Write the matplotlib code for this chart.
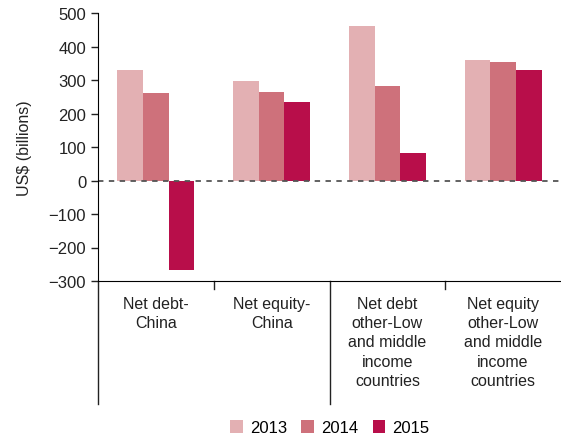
import matplotlib.pyplot as plt
import numpy as np

plt.rcParams['font.family'] = ['Liberation Sans', 'DejaVu Sans']

# Datos (miles de millones US$)
categories = ['Net debt-\nChina', 'Net equity-\nChina',
              'Net debt\nother-Low\nand middle\nincome\ncountries',
              'Net equity\nother-Low\nand middle\nincome\ncountries']
years = ['2013', '2014', '2015']
v2013 = [329, 298, 460, 360]
v2014 = [262, 263, 283, 355]
v2015 = [-266, 235, 81, 331]
colors = ['#E3B0B3', '#CE717B', '#B80E4A']

fig = plt.figure(figsize=(5.61, 4.39), dpi=100)
ax = fig.add_axes([98 / 561, 1 - 282 / 439, 463 / 561, 268 / 439])

x = np.arange(len(categories))
w = 0.222
for i, (vals, yr) in enumerate(zip([v2013, v2014, v2015], years)):
    ax.bar(x + (i - 1) * w, vals, width=w, color=colors[i], label=yr)

ax.axhline(0, color='#555555', lw=1.3, ls=(0, (3, 3)))
ax.set_xlim(-0.5, 3.5)
ax.set_ylim(-300, 500)
ax.set_yticks(range(-300, 501, 100))
ax.set_xticks([])
ax.spines['top'].set_visible(False)
ax.spines['right'].set_visible(False)
ax.tick_params(axis='y', labelsize=12, length=5, width=1, colors='#222222')
ax.set_ylabel('US$ (billions)', fontsize=11.5, labelpad=12, color='#222222')

# Separadores de categorias bajo el eje
trans = ax.get_xaxis_transform()
for b in [-0.5, 0.5, 1.5, 2.5]:
    depth = -0.459 if b in (-0.5, 1.5) else -0.03
    ax.plot([b, b], [0, depth], transform=trans, color='#222222', lw=1, clip_on=False)

for xi, lab in zip(x, categories):
    ax.text(xi, -0.055, lab, transform=trans, ha='center', va='top',
            fontsize=11.5, linespacing=1.36, color='#222222')

fig.legend(loc='lower center', ncol=3, bbox_to_anchor=(0.588, -0.028), frameon=False,
           fontsize=12, handlelength=0.75, handleheight=0.75, columnspacing=0.85,
           handletextpad=0.45)

plt.savefig('out.png', dpi=100)
